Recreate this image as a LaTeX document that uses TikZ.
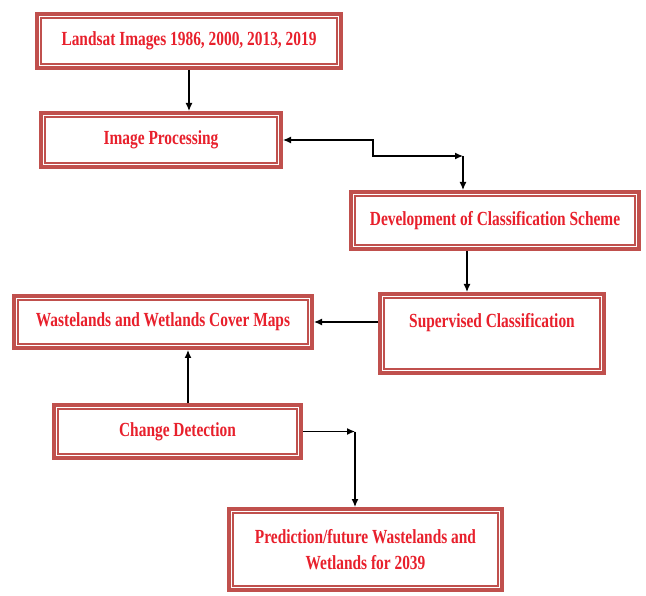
\documentclass[tikz,border=0pt]{standalone}
\usepackage{fontspec}
\setmainfont[FakeStretch=0.77]{Liberation Serif}
\usetikzlibrary{arrows.meta}
\definecolor{boxred}{RGB}{192,80,77}
\definecolor{textred}{RGB}{232,32,44}
\begin{document}
\begin{tikzpicture}[x=1pt,y=-1pt]
\tikzstyle{every node}=[draw=boxred,line width=4pt,fill=white,text=textred,font=\fontsize{20}{26}\selectfont\bfseries,align=center,inner sep=0pt];
\tikzstyle{inner}=[draw=boxred,line width=1.6pt];
\tikzstyle{arrow}=[line width=1.2pt,-{Latex[length=8pt,width=7pt]}];
\tikzstyle{both}=[arrow,{Latex[length=8pt,width=7pt]}-{Latex[length=8pt,width=7pt]}];
\useasboundingbox (0,0) rectangle (646,596);
\node[minimum width=304pt,minimum height=54pt] (landsat) at (189,41) {Landsat Images 1986, 2000, 2013, 2019};
\node[minimum width=240pt,minimum height=54pt] (proc) at (161,140) {Image Processing};
\node[minimum width=288pt,minimum height=57pt] (scheme) at (495,220.5) {Development of Classification Scheme};
\node[minimum width=224pt,minimum height=79pt] (superv) at (492,333.5) {Supervised Classification\\ \mbox{}};
\node[minimum width=298pt,minimum height=52pt] (maps) at (163,322) {Wastelands and Wetlands Cover Maps};
\node[minimum width=247pt,minimum height=53pt] (change) at (177.5,431.5) {Change Detection};
\node[minimum width=273pt,minimum height=81pt] (pred) at (365.5,549.5) {Prediction/future Wastelands and\\Wetlands for 2039};
\foreach \n in {landsat,proc,scheme,superv,maps,change,pred}
  \draw[inner] ([shift={(6pt,-6pt)}]\n.north west) rectangle ([shift={(-6pt,6pt)}]\n.south east);
\coordinate (jog) at (373,156);
\coordinate (fork) at (463,156);
\coordinate (drop) at (355,431.5);
\draw[arrow] (landsat.south) -- (landsat.south |- proc.north);
\draw[both] (proc.east) -| (jog) -- (fork);
\draw[arrow] (fork) -- (fork |- scheme.north);
\draw[arrow] ([xshift=-28pt]scheme.south) -- ([xshift=-28pt]scheme.south |- superv.north);
\draw[arrow] (maps.east -| superv.west) -- (maps.east);
\draw[arrow] ([xshift=10.5pt]change.north) -- ([xshift=10.5pt]change.north |- maps.south);
\draw[arrow] (change.east) -- (drop);
\draw[arrow] (drop) -- (drop |- pred.north);
\end{tikzpicture}
\end{document}
